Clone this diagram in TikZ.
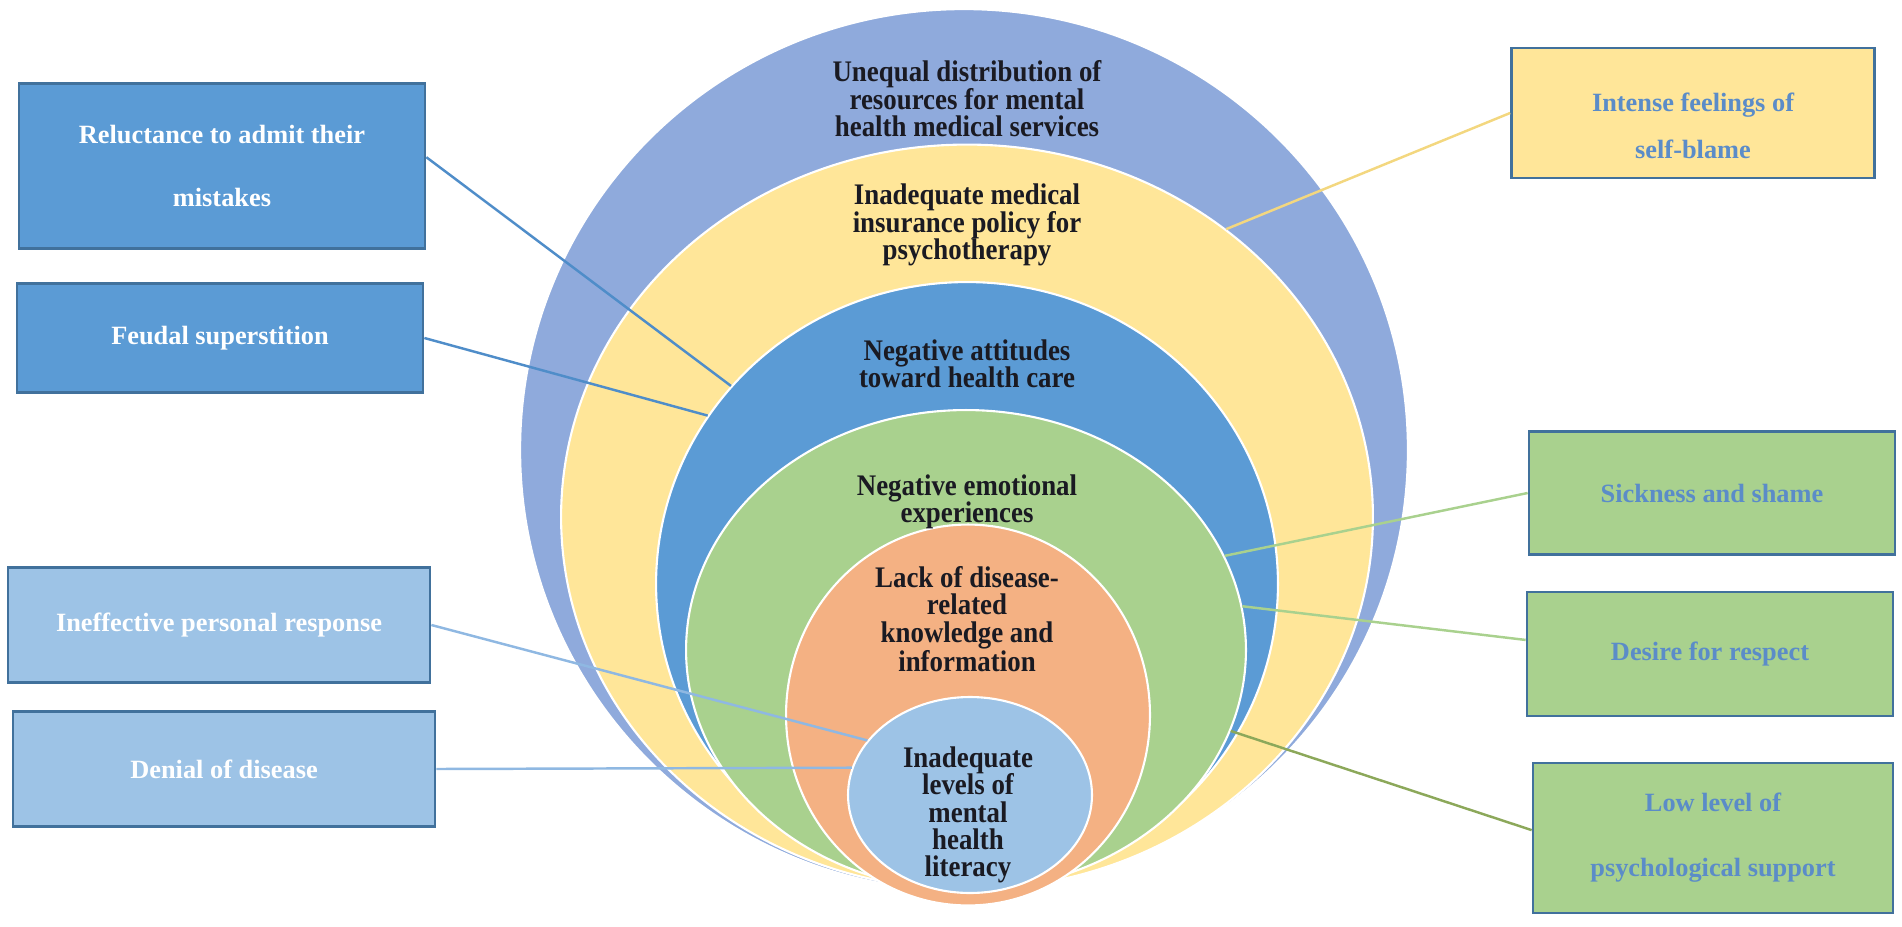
\documentclass[tikz,border=0pt]{standalone}
\usepackage{fontspec}
\setmainfont{Liberation Serif}
\newfontfamily\ringfont[FakeStretch=0.9]{Liberation Serif}
\usetikzlibrary{shapes.geometric}

\definecolor{outerblue}{HTML}{8FAADC}
\definecolor{ringyellow}{HTML}{FFE699}
\definecolor{midblue}{HTML}{5B9BD5}
\definecolor{ringgreen}{HTML}{A9D18E}
\definecolor{ringorange}{HTML}{F4B183}
\definecolor{paleblue}{HTML}{9DC3E6}
\definecolor{boxedge}{HTML}{41719C}
\definecolor{boxtext}{HTML}{5B8CC8}
\definecolor{ink}{HTML}{1A1A22}
\definecolor{linkblue}{HTML}{4F8DC9}
\definecolor{linkpale}{HTML}{8FB8E2}
\definecolor{linkyellow}{HTML}{F3D77F}
\definecolor{linkolive}{HTML}{8CA85A}

\tikzset{
  ring/.style={ellipse, draw=white, line width=1.2pt, inner sep=0pt},
  ringtext/.style={align=center, text=ink, inner sep=0pt, font=\ringfont\bfseries\fontsize{17}{15.6}\selectfont},
  factor/.style={draw=boxedge, line width=1.6pt, align=center, inner sep=0pt, font=\bfseries\fontsize{15}{17}\selectfont},
  leftbox/.style={factor, text=white},
  rightbox/.style={factor, text=boxtext},
  link/.style={line width=1.4pt}
}

\begin{document}
\begin{tikzpicture}[x=0.02cm, y=-0.02cm]
\useasboundingbox (0,0) rectangle (1902,926);
%rings, outside in
\node[ring, fill=outerblue, minimum width=17.76cm, minimum height=17.64cm] (resources) at (964,450) {};
\node[ring, fill=ringyellow, minimum width=16.24cm, minimum height=14.9cm] (insurance) at (967,517) {};
\node[ring, fill=midblue, minimum width=12.44cm, minimum height=12.08cm] (attitudes) at (967,584) {};
\node[ring, fill=ringgreen, minimum width=11.2cm, minimum height=9.6cm] (emotions) at (966,650) {};
\node[ring, fill=ringorange, minimum width=7.28cm, minimum height=7.62cm] (knowledge) at (968,715) {};
\node[ring, fill=paleblue, minimum width=4.88cm, minimum height=3.92cm] (literacy) at (970,795) {};
%ring labels
\node[ringtext] (resourcestext) at (967,99) {Unequal distribution of\\resources for mental\\health medical services};
\node[ringtext] (insurancetext) at (967,225) {Inadequate medical\\insurance policy for\\psychotherapy};
\node[ringtext] (attitudestext) at (967,364) {Negative attitudes\\toward health care};
\node[ringtext] (emotionstext) at (967,502) {Negative emotional\\experiences};
\node[ringtext] (knowledgetext) at (967,619) {Lack of disease-\\related\\knowledge and\\information};
\node[ringtext] (literacytext) at (968,815) {Inadequate\\levels of\\mental\\health\\literacy};
%left boxes
\node[leftbox, fill=midblue, minimum width=8.12cm, minimum height=3.3cm] (reluctance) at (222,166) {Reluctance to admit their\\[18.7pt]mistakes};
\node[leftbox, fill=midblue, minimum width=8.12cm, minimum height=2.18cm] (feudal) at (220,338) {Feudal superstition};
\node[leftbox, fill=paleblue, minimum width=8.44cm, minimum height=2.3cm] (ineffective) at (219,625) {Ineffective personal response};
\node[leftbox, fill=paleblue, minimum width=8.44cm, minimum height=2.3cm] (denial) at (224,769) {Denial of disease};
%right boxes
\node[rightbox, fill=ringyellow, minimum width=7.26cm, minimum height=2.6cm] (selfblame) at (1693,113) {\rule{0pt}{25pt}Intense feelings of\\[9.6pt]self-blame};
\node[rightbox, fill=ringgreen, minimum width=7.32cm, minimum height=2.46cm] (shame) at (1712,493) {Sickness and shame};
\node[rightbox, fill=ringgreen, minimum width=7.32cm, minimum height=2.48cm] (respect) at (1710,654) {Desire for respect};
\node[rightbox, fill=ringgreen, minimum width=7.2cm, minimum height=3cm] (support) at (1713,838) {Low level of\\[19.9pt]psychological support};
%connectors
\draw[link, linkblue] ([yshift=5pt]reluctance.east) -- (attitudes.140);
\draw[link, linkblue] (feudal.east) -- (attitudes.147);
\draw[link, linkpale] (ineffective.east) -- (literacy.152);
\draw[link, linkpale] (denial.east) -- (literacy.167);
\draw[link, linkyellow] (selfblame.west) -- (insurance.48);
\draw[link, ringgreen] (shame.west) -- (emotions.20);
\draw[link, ringgreen] ([yshift=8pt]respect.west) -- (emotions.9);
\draw[link, linkolive] ([yshift=4.5pt]support.west) -- (emotions.-17);
\end{tikzpicture}
\end{document}
